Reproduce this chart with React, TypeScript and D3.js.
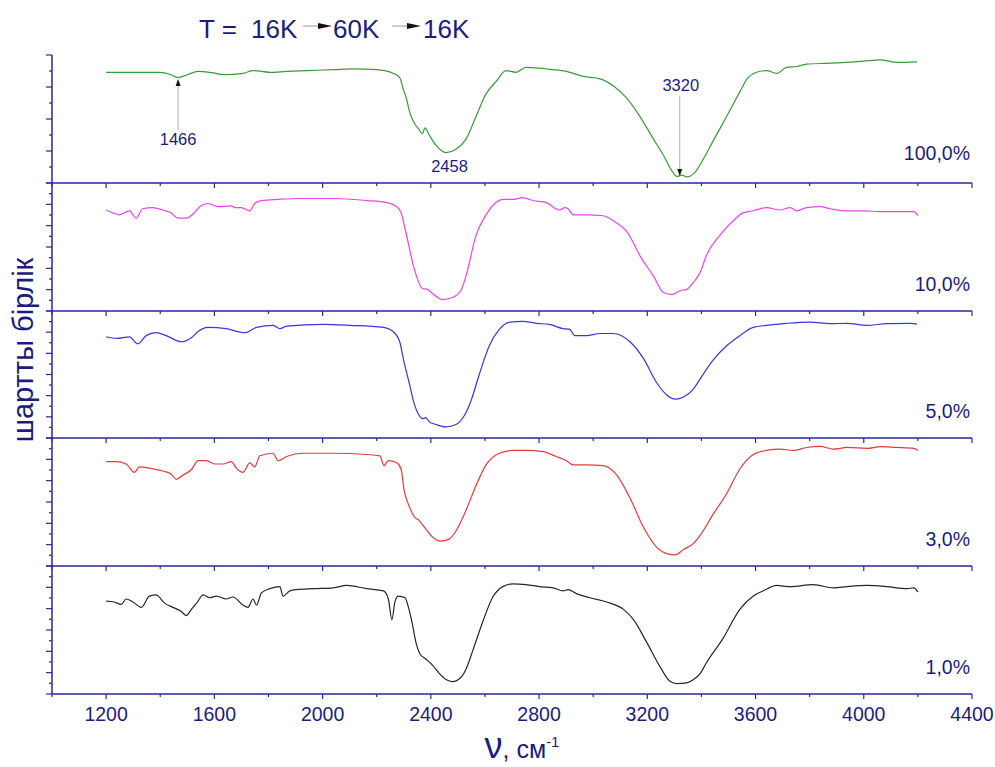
import React from "react";
import * as d3 from "d3";

// ---------- data (wavenumber, cm^-1  /  relative signal, % of panel height) ----------
const wn100 = [1200,1398,1440,1465,1500,1540,1590,1638,1706,1743,1805,1867,1941,2040,2114,2200,2262,2285,2300,2310,2320,2338,2355,2369,2378,2394,2419,2456,2493,2530,2567,2604,2641,2678,2715,2752,2802,2839,2901,2963,3025,3074,3124,3173,3223,3260,3291,3309,3328,3346,3371,3406,3443,3493,3542,3567,3604,3641,3678,3715,3752,3789,3876,3999,4061,4122,4197];
const v100 = [86.5,86.5,84.6,82.4,84.6,87.2,86.2,84.6,85.6,87.8,86.5,87.2,87.8,88.5,89.1,88.5,85.6,82.4,72,66,56.7,47.1,42.3,38.5,43,37.5,29.5,23.7,26.3,34.3,51.9,69.6,79.2,87.8,86.5,90.4,89.7,88.8,87.2,83.3,81.4,76.0,66.3,51.9,34.3,21.5,9.5,5.1,6.1,4.8,7.1,18.3,32.7,51.9,71.2,80.8,86.5,87.8,85.6,90.4,91.0,92.9,93.6,95.2,96.2,94.2,94.6];

const wn10 = [1200,1225,1250,1286,1311,1335,1372,1410,1440,1466,1496,1526,1546,1576,1613,1663,1675,1700,1731,1749,1774,1836,1916,2040,2163,2237,2274,2290,2307,2338,2369,2388,2406,2443,2480,2511,2530,2567,2604,2641,2666,2703,2740,2777,2827,2876,2895,2907,2926,2975,3037,3087,3124,3173,3223,3260,3291,3322,3346,3371,3396,3418,3468,3517,3554,3592,3641,3690,3728,3752,3789,3839,3876,3925,3999,4061,4122,4185,4200];
const v10 = [78.9,76.7,75.1,78.3,72.5,79.9,80.8,78.9,76.7,72.5,72.5,76.7,81.5,84.0,81.5,82.1,80.8,80.8,78.3,84.0,86.3,87.2,87.9,87.9,86.3,84.7,81.5,76.7,62.3,33.5,17.6,16.9,13.7,8.9,10.5,16.0,27.2,59.1,75.1,84.7,87.2,87.2,88.5,86.3,84.7,78.9,80.8,79.9,75.1,75.1,74.4,68.7,62.3,43.1,27.2,14.4,12.8,16.0,16.9,22.4,30.4,43.1,59.1,70.3,76.7,78.3,80.8,78.9,80.8,78.3,80.8,81.5,79.9,78.3,78.3,77.6,77.6,77.6,74.4];

const wn5 = [1200,1240,1286,1317,1348,1385,1422,1478,1515,1540,1576,1644,1712,1756,1817,1842,1867,2002,2101,2225,2268,2285,2301,2320,2338,2357,2369,2381,2394,2419,2456,2493,2524,2548,2579,2616,2653,2691,2740,2790,2839,2889,2913,2932,2975,3025,3074,3136,3185,3235,3272,3303,3334,3371,3396,3443,3493,3542,3592,3641,3715,3802,3876,3938,4012,4086,4173,4197];
const v5 = [79.7,78.4,79.7,74.2,80.6,82.9,80.6,75.8,79.0,83.9,87.1,86.1,82.9,87.1,88.7,86.1,88.1,89.4,88.7,87.1,82.3,75.8,59.7,43.5,27.4,17.7,15.2,16.1,12.9,10.6,8.7,10.6,17.7,29.0,50.0,72.6,85.5,91.3,91.9,90.3,89.4,86.1,85.5,80.6,80.6,82.3,82.3,75.8,62.9,43.5,33.9,30.6,32.3,38.7,46.8,61.3,72.6,80.6,87.1,88.7,90.3,91.3,90.0,90.3,88.7,90.0,90.3,89.7];

const wn3 = [1200,1237,1274,1305,1323,1360,1410,1440,1459,1484,1515,1540,1570,1601,1632,1663,1681,1706,1731,1749,1768,1817,1836,1867,1928,2040,2163,2212,2227,2243,2274,2290,2301,2320,2338,2357,2381,2406,2437,2468,2493,2530,2567,2604,2653,2703,2752,2814,2864,2901,2926,2975,3037,3087,3136,3185,3235,3272,3303,3334,3371,3396,3443,3493,3542,3592,3641,3690,3740,3789,3839,3888,3938,4012,4061,4122,4185,4200];
const v3 = [81.6,81.6,79.7,73.2,77.4,76.5,74.2,71.9,67.7,71.0,75.2,82.3,82.3,79.7,79.7,81.6,76.5,73.2,80.6,77.4,86.1,88.1,82.3,85.5,88.1,88.1,87.1,86.1,78.4,82.3,80.6,75.8,59.7,46.8,38.7,35.5,29.0,22.6,19.4,21.0,27.4,43.5,62.9,79.0,88.1,90.3,90.3,89.4,85.5,82.3,79.0,79.0,78.4,71.0,53.2,30.6,14.5,9.7,8.7,12.9,17.7,24.2,40.3,56.5,75.8,87.1,90.3,91.3,90.3,92.6,93.5,91.3,92.6,91.9,93.2,92.6,91.9,90.3];

const wn1 = [1200,1230,1256,1274,1299,1330,1360,1385,1416,1447,1478,1496,1515,1540,1558,1583,1607,1644,1669,1706,1724,1743,1756,1774,1805,1842,1854,1879,1904,1965,2040,2089,2163,2225,2243,2256,2268,2280,2305,2315,2330,2345,2360,2381,2406,2431,2456,2480,2511,2530,2555,2592,2629,2666,2703,2752,2802,2852,2889,2907,2938,2988,3050,3112,3149,3198,3248,3285,3309,3346,3371,3396,3418,3480,3542,3592,3629,3678,3728,3814,3888,3938,4012,4086,4160,4185,4200];
const v1 = [72.6,71.9,70.0,74.2,71.9,67.7,76.5,77.4,71.0,67.7,64.5,61.3,66.1,72.6,77.4,75.2,76.5,74.2,75.8,69.4,67.7,74.2,69.4,79.0,82.3,83.9,76.5,80.6,81.6,82.3,82.9,84.8,82.3,80.6,74.2,58.1,72.6,76.5,75.2,69.4,56.5,40.3,31.3,27.4,22.6,16.1,11.3,9.7,12.9,19.4,33.9,56.5,75.8,83.9,86.1,85.5,83.9,82.9,80.6,81.6,78.4,75.2,71.9,66.1,58.1,40.3,21.0,9.7,8.1,8.7,11.3,16.1,24.2,43.5,66.1,76.5,80.6,84.8,83.9,85.5,82.9,83.9,84.8,83.9,82.3,82.9,79.7];

const panelLabels = ["100,0%", "10,0%", "5,0%", "3,0%", "1,0%"];
const xTickLabels = [1200, 1600, 2000, 2400, 2800, 3200, 3600, 4000, 4400];

// ---------- layout ----------
const W = 995, H = 767;
const X0 = 52, X1 = 972;
const panelEdges = [55, 183, 311, 438, 566, 694];
const AXIS = "#27279a";
const TXT = "#1c1c7c";
const series = [
  { wn: wn100, v: v100, color: "#3a9a3a" },
  { wn: wn10, v: v10, color: "#ea45ea" },
  { wn: wn5, v: v5, color: "#3737e0" },
  { wn: wn3, v: v3, color: "#e63a3a" },
  { wn: wn1, v: v1, color: "#262626" },
];
const FONT = "'Liberation Sans', Arial, sans-serif";

export default function App() {
  const x = d3.scaleLinear().domain([1000, 4400]).range([X0, X1]);
  const xTicks = d3.range(1000, 4401, 200);

  return (
    <svg width={W} height={H} style={{ position: "absolute", left: 0, top: 0, background: "#fff" }} fontFamily={FONT}>
      {/* title */}
      <text x={199} y={38} fontSize={26} fill={TXT}>T =</text>
      <text x={251} y={38} fontSize={26} fill={TXT}>16K</text>
      <line x1={303} y1={26} x2={320} y2={26} stroke="#999" strokeWidth={1} />
      <path d="M318,23 L332,26 L318,29 Z" fill="#111" />
      <text x={333} y={38} fontSize={26} fill={TXT}>60K</text>
      <line x1={392} y1={26} x2={409} y2={26} stroke="#999" strokeWidth={1} />
      <path d="M407,23 L421,26 L407,29 Z" fill="#111" />
      <text x={423} y={38} fontSize={26} fill={TXT}>16K</text>

      {/* left axis line */}
      <line x1={X0} y1={panelEdges[0]} x2={X0} y2={panelEdges[5]} stroke={AXIS} strokeWidth={1.5} />

      {series.map((s, i) => {
        const top = panelEdges[i];
        const bottom = panelEdges[i + 1];
        const y = d3.scaleLinear().domain([0, 100]).range([bottom, top]);
        const nInt = i === 0 ? 8 : 12;
        const yTicks = d3.range(0, nInt + 1).map((k) => (k * 100) / nInt);
        const pts: [number, number][] = s.wn.map((w, k) => [w, s.v[k]]);
        const line = d3
          .line<[number, number]>()
          .x((d) => x(d[0]))
          .y((d) => y(d[1]))
          .curve(d3.curveMonotoneX);
        return (
          <g key={i}>
            {yTicks.map((t, k) => (
              <line key={k} x1={X0} x2={X0 - (k % 2 === 0 ? 6 : 3)} y1={y(t)} y2={y(t)} stroke={AXIS} strokeWidth={1.2} />
            ))}
            <line x1={X0} x2={X1} y1={bottom} y2={bottom} stroke={AXIS} strokeWidth={1.5} />
            {xTicks.map((t) => {
              const major = (t - 1200) % 400 === 0;
              return (
                <line key={t} x1={x(t)} x2={x(t)} y1={bottom} y2={bottom + (major ? 5 : 3)} stroke={AXIS} strokeWidth={1.2} />
              );
            })}
            <path d={line(pts) || ""} fill="none" stroke={s.color} strokeWidth={1.2} />
            <text x={970} y={i === 0 ? 160 : bottom - 20} textAnchor="end" fontSize={19.5} fill={TXT}>
              {panelLabels[i]}
            </text>
          </g>
        );
      })}

      {/* x tick labels */}
      {xTickLabels.map((t) => (
        <text key={t} x={x(t)} y={721} textAnchor="middle" fontSize={19.5} fill={TXT}>
          {t}
        </text>
      ))}

      {/* annotations in top panel */}
      <line x1={x(1466)} x2={x(1466)} y1={130} y2={84} stroke="#aaa" strokeWidth={1} />
      <path d={`M${x(1466) - 2.5},86 L${x(1466)},79 L${x(1466) + 2.5},86 Z`} fill="#111" />
      <text x={x(1466)} y={145} textAnchor="middle" fontSize={16.5} fill={TXT}>1466</text>
      <text x={x(2458) + 3} y={172} textAnchor="middle" fontSize={16.5} fill={TXT}>2458</text>
      <text x={x(3320) + 1} y={91} textAnchor="middle" fontSize={16.5} fill={TXT}>3320</text>
      <line x1={x(3320)} x2={x(3320)} y1={96} y2={171} stroke="#aaa" strokeWidth={1} />
      <path d={`M${x(3320) - 2.5},169 L${x(3320)},176 L${x(3320) + 2.5},169 Z`} fill="#111" />

      {/* axis titles */}
      <text transform="translate(33,350) rotate(-90)" textAnchor="middle" fontSize={29} fill={TXT}>
        шартты бірлік
      </text>
      <text x={522} y={758} textAnchor="middle" fill={TXT}>
        <tspan fontSize={36}>ν</tspan>
        <tspan fontSize={25}>, см</tspan>
        <tspan fontSize={15} dy={-11}>-1</tspan>
      </text>
    </svg>
  );
}
